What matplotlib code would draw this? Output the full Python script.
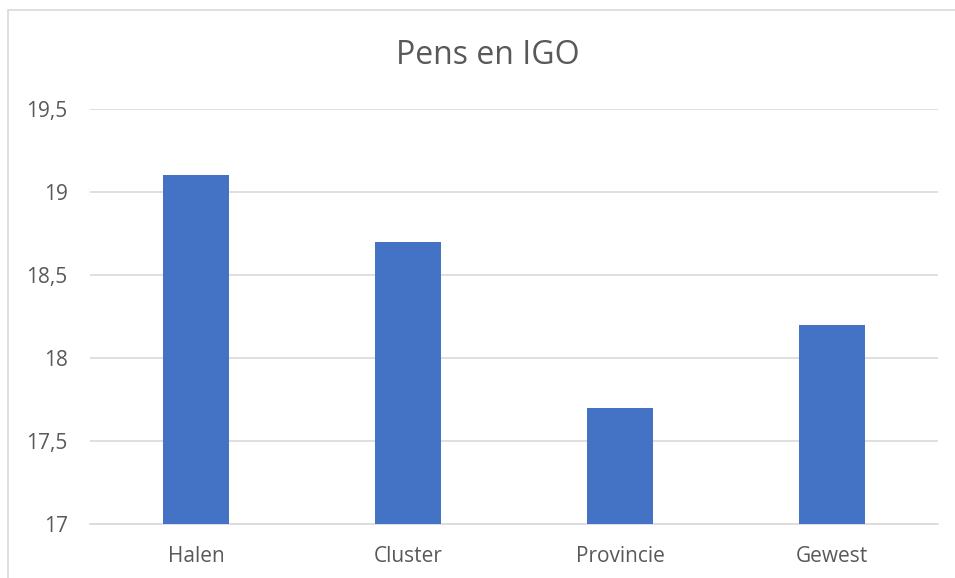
import matplotlib.pyplot as plt
from matplotlib.patches import Rectangle
from matplotlib.ticker import FuncFormatter

plt.rcParams['font.family'] = ['Open Sans', 'DejaVu Sans']

categories = ['Halen', 'Cluster', 'Provincie', 'Gewest']
values = [19.1, 18.7, 17.7, 18.2]
yticks = [17, 17.5, 18, 18.5, 19, 19.5]

grey = '#595959'

fig = plt.figure(figsize=(9.55, 5.78), dpi=100)
ax = fig.add_axes([90 / 955, 1 - 524 / 578, (938 - 90) / 955, (524 - 109) / 578])

x = range(len(categories))
ax.bar(x, values, width=0.31, color='#4472C4', zorder=3)

ax.set_xlim(-0.5, len(categories) - 0.5)
ax.set_ylim(17, 19.5)
ax.set_yticks(yticks)
ax.yaxis.set_major_formatter(FuncFormatter(lambda v, p: ('%g' % v).replace('.', ',')))
ax.set_xticks(list(x))
ax.set_xticklabels(categories)

ax.grid(axis='y', color='#d9d9d9', linewidth=1.2, zorder=0)
for s in ['top', 'right', 'left']:
    ax.spines[s].set_visible(False)
ax.spines['bottom'].set_color('#d9d9d9')
ax.spines['bottom'].set_linewidth(1.2)
ax.tick_params(axis='both', length=0, labelsize=15, colors=grey)
ax.tick_params(axis='y', pad=16)
ax.tick_params(axis='x', pad=16)

fig.text(488 / 955, 1 - 56 / 578, 'Pens en IGO', ha='center', va='center',
         fontsize=23, color=grey)

# chart area border (runs past the image on the right and bottom)
fig.patches.append(Rectangle((7.5 / 955, -0.1), 2, 1 + 0.1 - 10.5 / 578,
                             transform=fig.transFigure, fill=False,
                             edgecolor='#d9d9d9', linewidth=1.2))

fig.savefig('out.png', dpi=100)
